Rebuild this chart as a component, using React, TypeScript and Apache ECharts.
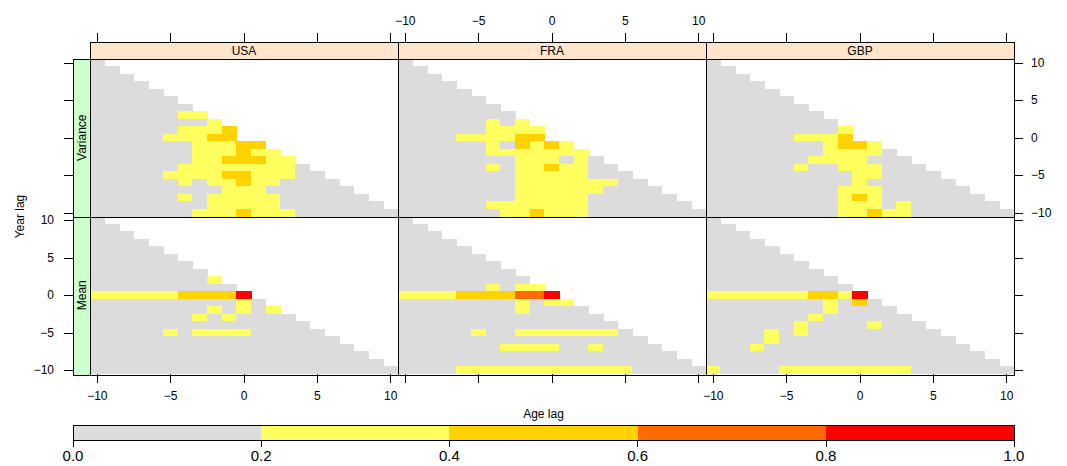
import React, { useEffect, useRef } from "react";
import * as echarts from "echarts";

// ---------- data ----------
const ageLags = [-10, -9, -8, -7, -6, -5, -4, -3, -2, -1, 0, 1, 2, 3, 4, 5, 6, 7, 8, 9, 10];
const yearLags = [-10, -9, -8, -7, -6, -5, -4, -3, -2, -1, 0, 1, 2, 3, 4, 5, 6, 7, 8, 9, 10];
const tickValues = [-10, -5, 0, 5, 10];
const countries = ["USA", "FRA", "GBP"];
const measures = ["Variance", "Mean"]; // top row, bottom row
const levelBreaks = [0, 0.2, 0.4, 0.6, 0.8, 1.0];
const levelColors = ["#DCDCDC", "#FFFF60", "#FFD200", "#FF6A00", "#FF0000"];
const levelValues = [0.1, 0.3, 0.5, 0.7, 0.9]; // representative value of each colour class
const keyTickLabels = ["0.0", "0.2", "0.4", "0.6", "0.8", "1.0"];

// Rows run from year lag 10 (top) down to -10 (bottom); characters run over age lags -10..10.
// Digit = colour class (0 grey … 4 red), '.' = no value.
const usaVariance = [
  "0", "00", "000", "0000", "00000", "000000", "0000000",
  "00000011", "000000001", "0000001112", "0000011122.",
  "000000011122", "0000000111211", "00000001122211", "000000111111110",
  "0000011112211100", "00000010112110000", "000000000111000000",
  "0000001011111000000", "00000000111110000000", "000000011121110000000",
];
const fraVariance = [
  "0", "00", "000", "0000", "00000", "000000", "0000000",
  "00000000", "000000101", "0000001111", "0000111122.",
  "000000102121", "0000001111111", "00000000111010", "000000101121100",
  "0000000011111000", "00000000111111100", "000000001111110000",
  "0000000011111000000", "00000011111110000000", "000000011211100000000",
];
const gbpVariance = [
  "0", "00", "000", "0000", "00000", "000000", "0000000",
  "00000000", "000000000", "0000000001", "0000001112.",
  "000000001221", "0000000011110", "00000001111000", "000000100111000",
  "0000000000110000", "00000000001000000", "000000000111000000",
  "0000000001210000000", "00000000011101000000", "000000000112110000000",
];
const usaMean = [
  "0", "00", "000", "0000", "00000", "000000", "0000000",
  "00000000", "000000001", "0000000000", "11111122224",
  "000000000010", "0000000010101", "00000001010000", "000000000000000",
  "0000010111100000", "00000000000000000", "000000000000000000",
  "0000000000000000000", "00000000000000000000", "000000000000000000000",
];
const fraMean = [
  "0", "00", "000", "0000", "00000", "000000", "0000000",
  "00000000", "000000000", "0000001011", "11112222334",
  "000000001011", "0000000010000", "00000000000000", "000000000000000",
  "0000010011111110", "00000000000000000", "000000011110010000",
  "0000000000000000000", "00000000000000000000", "000011111111111100000",
];
const gbpMean = [
  "0", "00", "000", "0000", "00000", "000000", "0000000",
  "00000000", "000000000", "0000000000", "11111112214",
  "000000001020", "0000000010000", "00000001000000", "000000100001000",
  "0000101000000000", "00001000000000000", "000100000000000000",
  "0000000000000000000", "00000000000000000000", "100001111111110000000",
];
const panelRows = [
  [usaVariance, fraVariance, gbpVariance],
  [usaMean, fraMean, gbpMean],
];

// ---------- layout ----------
const FONT = "'Liberation Sans', Arial, Helvetica, sans-serif";
const colLefts = [90, 398, 706];
const panelW = 308;
const rowTops = [59, 216.5];
const panelH = 157.5;
const stripH = 17;
const stripW = 17;

const fmt = (v: string | number) => String(v).replace("-", "\u2212");
const isTick = (_i: number, v: string) => tickValues.includes(Number(v));

function toCells(rows: string[]) {
  const out: number[][] = [];
  rows.forEach((row, r) => {
    const year = 10 - r;
    const yi = yearLags.indexOf(year);
    for (let c = 0; c < row.length; c++) {
      const ch = row[c];
      if (ch === ".") continue;
      out.push([c, yi, levelValues[Number(ch)]]);
    }
  });
  return out;
}

function keyLabel(v: number) {
  const i = Math.round(v / 0.2);
  return Math.abs(v - i * 0.2) < 1e-9 && keyTickLabels[i] ? keyTickLabels[i] : "";
}

function buildOption() {
  const grid: any[] = [];
  const xAxis: any[] = [];
  const yAxis: any[] = [];
  const series: any[] = [];
  const graphic: any[] = [];
  const ageCats = ageLags.map(String);
  const yearCats = yearLags.map(String);

  const catAxis = (cats: string[], gridIndex: number, position: string, showTick: boolean, showLabel: boolean, offset: number, margin: number) => ({
    type: "category",
    data: cats,
    gridIndex,
    position,
    offset,
    boundaryGap: true,
    axisLine: { show: false },
    splitLine: { show: false },
    axisTick: {
      show: showTick,
      alignWithLabel: true,
      interval: isTick,
      length: 9,
      inside: false,
      lineStyle: { color: "#000", width: 1 },
    },
    axisLabel: {
      show: showLabel,
      interval: isTick,
      formatter: fmt,
      color: "#000",
      fontSize: 12,
      fontFamily: FONT,
      margin,
    },
  });

  for (let r = 0; r < 2; r++) {
    for (let c = 0; c < 3; c++) {
      const g = r * 3 + c;
      grid.push({ left: colLefts[c], top: rowTops[r], width: panelW, height: panelH, containLabel: false });
      xAxis.push(catAxis(ageCats, g, "bottom", r === 1, r === 1 && c !== 1, 0, 16));
      xAxis.push(catAxis(ageCats, g, "top", r === 0, r === 0 && c === 1, r === 0 ? stripH : 0, 15));
      yAxis.push(catAxis(yearCats, g, "left", c === 0, c === 0 && r === 1, c === 0 ? stripW : 0, 19));
      yAxis.push(catAxis(yearCats, g, "right", c === 2, c === 2 && r === 0, 0, 17));
      series.push({
        type: "heatmap",
        name: `${countries[c]} ${measures[r]}`,
        xAxisIndex: 2 * g,
        yAxisIndex: 2 * g,
        data: toCells(panelRows[r][c]),
        itemStyle: { borderWidth: 0 },
        emphasis: { disabled: true },
        silent: true,
      });
      graphic.push({
        type: "rect",
        z: 100,
        shape: { x: colLefts[c] + 0.5, y: Math.round(rowTops[r]) + 0.5, width: panelW, height: Math.round(panelH) },
        style: { fill: "none", stroke: "#000", lineWidth: 1 },
        silent: true,
      });
    }
  }

  for (let c = 0; c < 3; c++) {
    graphic.push({
      type: "rect",
      z: 100,
      shape: { x: colLefts[c] + 0.5, y: rowTops[0] - stripH + 0.5, width: panelW, height: stripH },
      style: { fill: "#FFE5CC", stroke: "#000", lineWidth: 1 },
      silent: true,
    });
    graphic.push({
      type: "text",
      z: 101,
      x: colLefts[c] + panelW / 2,
      y: rowTops[0] - stripH / 2,
      style: { text: countries[c], fill: "#000", font: `12px ${FONT}`, textAlign: "center", textVerticalAlign: "middle" },
      silent: true,
    });
  }
  for (let r = 0; r < 2; r++) {
    graphic.push({
      type: "rect",
      z: 100,
      shape: { x: colLefts[0] - stripW + 0.5, y: Math.round(rowTops[r]) + 0.5, width: stripW, height: Math.round(panelH) },
      style: { fill: "#CCFFCC", stroke: "#000", lineWidth: 1 },
      silent: true,
    });
    graphic.push({
      type: "text",
      z: 101,
      x: colLefts[0] - stripW / 2,
      y: rowTops[r] + panelH / 2,
      rotation: Math.PI / 2,
      style: { text: measures[r], fill: "#000", font: `12px ${FONT}`, textAlign: "center", textVerticalAlign: "middle" },
      silent: true,
    });
  }
  graphic.push({
    type: "text",
    x: 20,
    y: rowTops[0] + panelH,
    rotation: Math.PI / 2,
    style: { text: "Year lag", fill: "#000", font: `12px ${FONT}`, textAlign: "center", textVerticalAlign: "middle" },
    silent: true,
  });
  graphic.push({
    type: "text",
    x: (colLefts[0] - stripW + colLefts[2] + panelW) / 2,
    y: 414,
    style: { text: "Age lag", fill: "#000", font: `12px ${FONT}`, textAlign: "center", textVerticalAlign: "middle" },
    silent: true,
  });

  // colour key
  const keyLeft = colLefts[0] - stripW;
  const keyW = colLefts[2] + panelW - keyLeft;
  const keyTop = 425;
  const keyH = 15;
  grid.push({ left: keyLeft, top: keyTop, width: keyW, height: keyH, containLabel: false });
  xAxis.push({
    type: "value",
    gridIndex: 6,
    min: levelBreaks[0],
    max: levelBreaks[levelBreaks.length - 1],
    interval: 0.2,
    position: "bottom",
    axisLine: { show: false },
    splitLine: { show: false },
    minorTick: { show: false },
    axisTick: { show: true, length: 7, lineStyle: { color: "#000" } },
    axisLabel: {
      formatter: keyLabel,
      color: "#000",
      fontSize: 15,
      fontFamily: FONT,
      margin: 8,
    },
  });
  yAxis.push({
    type: "category",
    gridIndex: 6,
    data: ["key"],
    show: false,
  });
  levelColors.forEach((col, k) => {
    series.push({
      type: "bar",
      xAxisIndex: 12,
      yAxisIndex: 12,
      stack: "key",
      barWidth: "100%",
      data: [levelBreaks[k + 1] - levelBreaks[k]],
      itemStyle: { color: col },
      label: { show: false },
      silent: true,
      emphasis: { disabled: true },
    });
  });
  graphic.push({
    type: "rect",
    z: 100,
    shape: { x: keyLeft + 0.5, y: keyTop + 0.5, width: keyW, height: keyH },
    style: { fill: "none", stroke: "#000", lineWidth: 1 },
    silent: true,
  });

  return {
    animation: false,
    backgroundColor: "#fff",
    textStyle: { fontFamily: FONT, color: "#000" },
    grid,
    xAxis,
    yAxis,
    visualMap: {
      type: "piecewise",
      show: false,
      dimension: 2,
      seriesIndex: [0, 1, 2, 3, 4, 5],
      pieces: levelColors.map((col, k) => ({ gte: levelBreaks[k], lt: levelBreaks[k + 1], color: col })),
    },
    series,
    graphic: { elements: graphic },
  };
}

export default function App() {
  const ref = useRef<HTMLDivElement>(null);
  useEffect(() => {
    if (!ref.current) return;
    const chart = echarts.init(ref.current, undefined, { renderer: "svg" });
    chart.setOption(buildOption() as any);
    return () => chart.dispose();
  }, []);
  return (
    <>
      <style>{`.lattice-chart svg path { shape-rendering: crispEdges; }`}</style>
      <div
        ref={ref}
        className="lattice-chart"
        style={{ position: "fixed", left: 0, top: 0, width: 1067, height: 466, background: "#fff" }}
      />
    </>
  );
}
